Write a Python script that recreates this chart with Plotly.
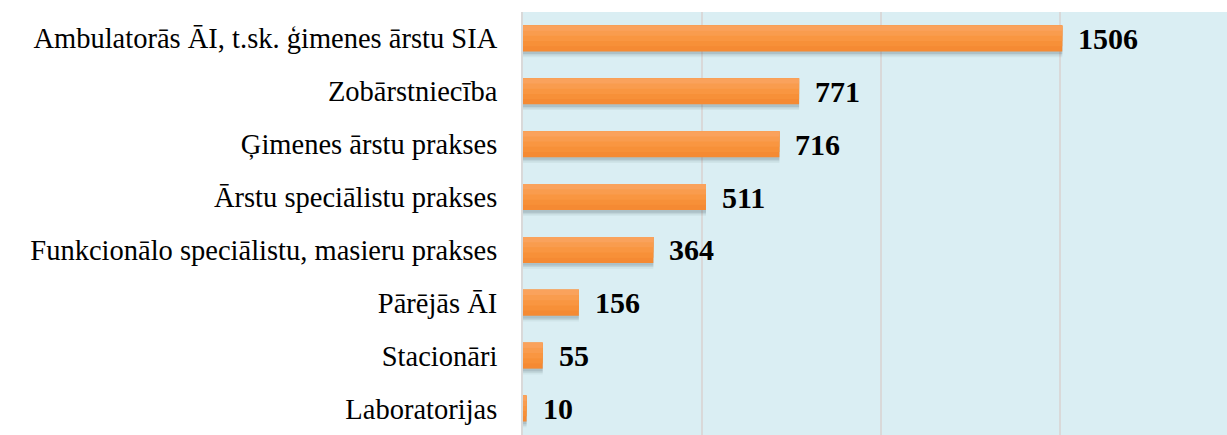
import plotly.graph_objects as go

categories = [
    "Ambulatorās ĀI, t.sk. ģimenes ārstu SIA",
    "Zobārstniecība",
    "Ģimenes ārstu prakses",
    "Ārstu speciālistu prakses",
    "Funkcionālo speciālistu, masieru prakses",
    "Pārējās ĀI",
    "Stacionāri",
    "Laboratorijas",
]
values = [1506, 771, 716, 511, 364, 156, 55, 10]

W = 0.49  # bar thickness in category units

fig = go.Figure()

# soft shadow layers
for shift, alpha in [(0.11, 0.06), (0.08, 0.09), (0.05, 0.12)]:
    fig.add_trace(go.Bar(
        x=values, y=categories, orientation="h",
        width=W, offset=-W / 2 + shift,
        marker=dict(color=f"rgba(40,60,70,{alpha})", line=dict(width=0)),
        hoverinfo="skip", showlegend=False,
    ))

# gradient layers (bottom colour first, then lighter top portions)
grad = [(1.0, "#F58A33"), (0.80, "#F79038"), (0.60, "#F99641"), (0.40, "#F99C4E"), (0.20, "#FAA25C")]
for frac, col in grad:
    fig.add_trace(go.Bar(
        x=values, y=categories, orientation="h",
        width=W * frac, offset=-W / 2,
        marker=dict(color=col, line=dict(width=0)),
        hoverinfo="skip", showlegend=False,
    ))

for v, c in zip(values, categories):
    fig.add_annotation(
        x=v, y=c, text=str(v), showarrow=False,
        xanchor="left", yanchor="middle", xshift=14, yshift=0,
        font=dict(family="Liberation Serif", size=30, color="#000000", weight="bold"),
    )

fig.update_layout(
    width=1227, height=435,
    margin=dict(l=523, r=0, t=12, b=0),
    barmode="overlay",
    paper_bgcolor="#FFFFFF",
    plot_bgcolor="#DAEEF3",
    showlegend=False,
    hovermode=False,
    xaxis=dict(
        range=[0, 1966], dtick=500, showgrid=True, gridcolor="#D9D9D9", gridwidth=2,
        showticklabels=False, zeroline=False, ticks="", showline=False,
    ),
    yaxis=dict(
        type="category", autorange="reversed", ticks="",
        showline=True, linecolor="#D9D9D9", linewidth=2,
        tickfont=dict(family="Liberation Serif", size=28.5, color="#000000"),
        ticklabelstandoff=18, showgrid=False,
    ),
)

fig.write_html(
    "out.html",
    config={"displayModeBar": False, "staticPlot": True},
    post_script="document.body.style.margin='0';document.body.style.overflow='hidden';",
)
